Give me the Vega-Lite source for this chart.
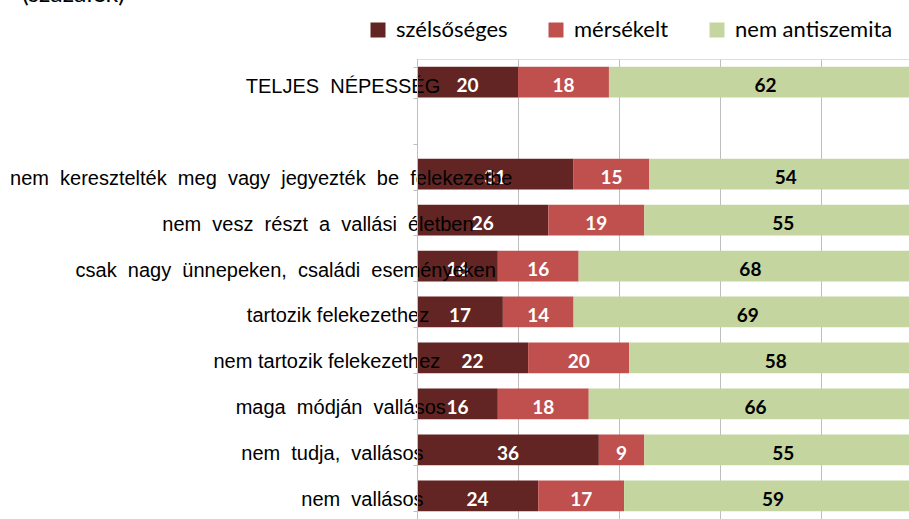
{
  "$schema": "https://vega.github.io/schema/vega-lite/v6.json",
  "autosize": "none",
  "width": 492,
  "height": 460,
  "padding": {"left": 417, "top": 59, "right": 0, "bottom": 0},
  "background": "white",
  "title": {
    "text": "(százalék)",
    "anchor": "start",
    "frame": "group",
    "orient": "top",
    "dx": -395,
    "offset": 0,
    "baseline": "alphabetic",
    "dy": 8,
    "font": "Lato",
    "fontSize": 25,
    "fontWeight": "normal",
    "color": "#000000"
  },
  "data": {
    "values": [
      {"cat": "TELJES  NÉPESSÉG", "group": "szélsőséges", "value": 20},
      {"cat": "TELJES  NÉPESSÉG", "group": "mérsékelt", "value": 18},
      {"cat": "TELJES  NÉPESSÉG", "group": "nem antiszemita", "value": 62},
      {"cat": "nem  keresztelték  meg  vagy  jegyezték  be  felekezetbe", "group": "szélsőséges", "value": 31},
      {"cat": "nem  keresztelték  meg  vagy  jegyezték  be  felekezetbe", "group": "mérsékelt", "value": 15},
      {"cat": "nem  keresztelték  meg  vagy  jegyezték  be  felekezetbe", "group": "nem antiszemita", "value": 54},
      {"cat": "nem  vesz  részt  a  vallási  életben", "group": "szélsőséges", "value": 26},
      {"cat": "nem  vesz  részt  a  vallási  életben", "group": "mérsékelt", "value": 19},
      {"cat": "nem  vesz  részt  a  vallási  életben", "group": "nem antiszemita", "value": 55},
      {"cat": "csak  nagy  ünnepeken,  családi  eseményeken", "group": "szélsőséges", "value": 16},
      {"cat": "csak  nagy  ünnepeken,  családi  eseményeken", "group": "mérsékelt", "value": 16},
      {"cat": "csak  nagy  ünnepeken,  családi  eseményeken", "group": "nem antiszemita", "value": 68},
      {"cat": "tartozik felekezethez", "group": "szélsőséges", "value": 17},
      {"cat": "tartozik felekezethez", "group": "mérsékelt", "value": 14},
      {"cat": "tartozik felekezethez", "group": "nem antiszemita", "value": 69},
      {"cat": "nem tartozik felekezethez", "group": "szélsőséges", "value": 22},
      {"cat": "nem tartozik felekezethez", "group": "mérsékelt", "value": 20},
      {"cat": "nem tartozik felekezethez", "group": "nem antiszemita", "value": 58},
      {"cat": "maga  módján  vallásos", "group": "szélsőséges", "value": 16},
      {"cat": "maga  módján  vallásos", "group": "mérsékelt", "value": 18},
      {"cat": "maga  módján  vallásos", "group": "nem antiszemita", "value": 66},
      {"cat": "nem  tudja,  vallásos", "group": "szélsőséges", "value": 36},
      {"cat": "nem  tudja,  vallásos", "group": "mérsékelt", "value": 9},
      {"cat": "nem  tudja,  vallásos", "group": "nem antiszemita", "value": 55},
      {"cat": "nem  vallásos", "group": "szélsőséges", "value": 24},
      {"cat": "nem  vallásos", "group": "mérsékelt", "value": 17},
      {"cat": "nem  vallásos", "group": "nem antiszemita", "value": 59}
    ]
  },
  "transform": [
    {"calculate": "indexof(['szélsőséges','mérsékelt','nem antiszemita'], datum.group)", "as": "ord"},
    {"stack": "value", "groupby": ["cat"], "sort": [{"field": "ord", "order": "ascending"}], "as": ["v0", "v1"]},
    {"calculate": "(datum.v0 + datum.v1) / 2", "as": "mid"}
  ],
  "encoding": {
    "y": {
      "field": "cat",
      "type": "nominal",
      "scale": {
        "domain": [
          "TELJES  NÉPESSÉG",
          " ",
          "nem  keresztelték  meg  vagy  jegyezték  be  felekezetbe",
          "nem  vesz  részt  a  vallási  életben",
          "csak  nagy  ünnepeken,  családi  eseményeken",
          "tartozik felekezethez",
          "nem tartozik felekezethez",
          "maga  módján  vallásos",
          "nem  tudja,  vallásos",
          "nem  vallásos"
        ],
        "paddingInner": 0.33,
        "paddingOuter": 0.17
      },
      "axis": {
        "title": null,
        "zindex": 1,
        "domainColor": "#BFBFBF",
        "tickColor": "#BFBFBF",
        "tickSize": 4,
        "tickBand": "extent",
        "labelExpr": "datum.value == null || datum.value == ' ' ? '' : replace(datum.value, regexp('  ', 'g'), '\u00a0 ') + slice('\u00a0\u00a0\u00a0\u00a0\u00a0\u00a0\u00a0\u00a0\u00a0\u00a0\u00a0\u00a0\u00a0\u00a0\u00a0\u00a0\u00a0\u00a0\u00a0\u00a0', 0, [13, 0, 0, 7, 3, 15, 13, 12, 16, 16][indexof(['TELJES  NÉPESSÉG', ' ', 'nem  keresztelték  meg  vagy  jegyezték  be  felekezetbe', 'nem  vesz  részt  a  vallási  életben', 'csak  nagy  ünnepeken,  családi  eseményeken', 'tartozik felekezethez', 'nem tartozik felekezethez', 'maga  módján  vallásos', 'nem  tudja,  vallásos', 'nem  vallásos'], datum.value)]) + '\u200b'",
        "labelFont": "Liberation Sans",
        "labelFontSize": 20,
        "labelColor": "#000000",
        "labelAlign": "right",
        "labelBaseline": "alphabetic",
        "labelOffset": 10,
        "labelPadding": -99,
        "labelLimit": 800,
        "labelOverlap": false
      }
    }
  },
  "layer": [
    {
      "mark": {"type": "bar", "clip": true},
      "encoding": {
        "x": {
          "field": "v0",
          "type": "quantitative",
          "scale": {"domain": [0, 97.4], "nice": false, "zero": true},
          "axis": {
            "title": null,
            "labels": false,
            "ticks": false,
            "domain": false,
            "grid": true,
            "gridColor": "#BFBFBF",
            "gridWidth": 1,
            "values": [0, 20, 40, 60, 80],
            "zindex": 0
          }
        },
        "x2": {"field": "v1"},
        "color": {
          "field": "group",
          "type": "nominal",
          "scale": {
            "domain": ["szélsőséges", "mérsékelt", "nem antiszemita"],
            "range": ["#632523", "#C0504D", "#C4D59F"]
          },
          "legend": {
            "title": null,
            "orient": "none",
            "direction": "horizontal",
            "legendX": -50,
            "legendY": -40,
            "padding": 0,
            "symbolType": "square",
            "symbolSize": 225,
            "symbolStrokeWidth": 0,
            "symbolOpacity": 1,
            "labelFont": "Lato",
            "labelFontSize": 22,
            "labelColor": "#000000",
            "labelOffset": 7,
            "columnPadding": 37,
            "labelLimit": 300
          }
        }
      }
    },
    {
      "mark": {
        "type": "text",
        "font": "Lato",
        "fontSize": 19,
        "fontWeight": "bold",
        "align": "center",
        "baseline": "middle",
        "dy": 4,
        "clip": true
      },
      "encoding": {
        "x": {"field": "mid", "type": "quantitative"},
        "text": {"field": "value", "type": "quantitative"},
        "color": {
          "condition": {"test": "datum.group == 'nem antiszemita'", "value": "#000000"},
          "value": "#FFFFFF"
        }
      }
    }
  ]
}
